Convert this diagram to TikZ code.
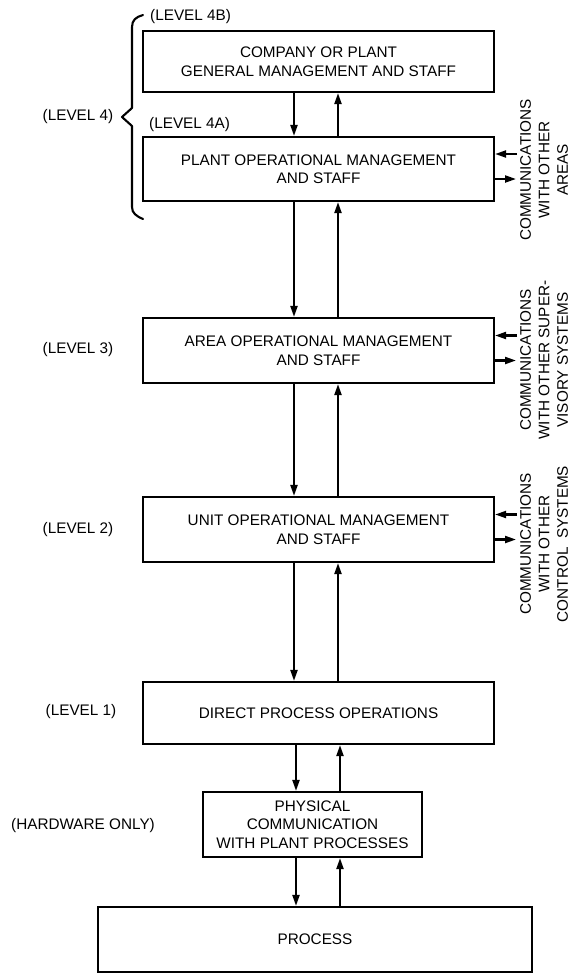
\documentclass[tikz,border=0pt]{standalone}
\usepackage{fontspec}
\setmainfont{Liberation Sans}
\usetikzlibrary{arrows.meta}
\begin{document}
\begin{tikzpicture}[x=1pt,y=-1pt,
  every node/.style={font=\fontsize{15.3}{18.5}\selectfont},
  box/.style={draw,line width=2.2pt,minimum width=351pt,align=center,inner sep=0pt},
  lbl/.style={inner sep=0pt},
  side/.style={rotate=90,align=center,inner sep=0pt},
  arr/.style={line width=2.1pt,-{Triangle[length=11pt,width=7pt]}},
  bracepath/.style={line width=2.1pt,line join=round,line cap=round}]
\useasboundingbox (0,0) rectangle (574,975);
% boxes
\node[box,minimum height=61pt,text depth=-3pt] (b4b) at (318.5,61.5) {COMPANY OR PLANT\\GENERAL MANAGEMENT AND STAFF};
\node[box,minimum height=64pt] (b4a) at (318.5,169) {PLANT OPERATIONAL MANAGEMENT\\AND STAFF};
\node[box,minimum height=65pt] (b3) at (318.5,350.5) {AREA OPERATIONAL MANAGEMENT\\AND STAFF};
\node[box,minimum height=65pt] (b2) at (318.5,529.5) {UNIT OPERATIONAL MANAGEMENT\\AND STAFF};
\node[box,minimum height=62pt] (b1) at (318.5,713) {DIRECT PROCESS OPERATIONS};
\node[box,minimum width=219pt,minimum height=65pt] (bp) at (312.5,824.5) {PHYSICAL\\COMMUNICATION\\WITH PLANT PROCESSES};
\node[box,minimum width=434pt,minimum height=65pt] (bproc) at (315,939.5) {PROCESS};
% left labels
\node[lbl,anchor=west] (l4b) at (150,17) {(LEVEL 4B)};
\node[lbl] (l4) at (78,117) {(LEVEL 4)};
\node[lbl,anchor=west] (l4a) at (149,125) {(LEVEL 4A)};
\node[lbl] (l3) at (78,350) {(LEVEL 3)};
\node[lbl] (l2) at (78,530) {(LEVEL 2)};
\node[lbl] (l1) at (81,712) {(LEVEL 1)};
\node[lbl] (lhw) at (83,826) {(HARDWARE ONLY)};
% brace
\draw[bracepath] (143,15) .. controls (136,17) and (132,20) .. (132,27) -- (132,108) -- (122,117) -- (132,126) -- (132,207) .. controls (132,213) and (136,216) .. (143,219);
% vertical arrow columns
\coordinate (dn) at (294,0);
\coordinate (up) at (338,0);
\coordinate (dnp) at (296,0);
\coordinate (upp) at (340,0);
\draw[arr] (b4b.south -| dn) -- (b4a.north -| dn);
\draw[arr] (b4a.north -| up) -- (b4b.south -| up);
\draw[arr] (b4a.south -| dn) -- (b3.north -| dn);
\draw[arr] (b3.north -| up) -- (b4a.south -| up);
\draw[arr] (b3.south -| dn) -- (b2.north -| dn);
\draw[arr] (b2.north -| up) -- (b3.south -| up);
\draw[arr] (b2.south -| dn) -- (b1.north -| dn);
\draw[arr] (b1.north -| up) -- (b2.south -| up);
\draw[arr] (b1.south -| dnp) -- (bp.north -| dnp);
\draw[arr] (bp.north -| upp) -- (b1.south -| upp);
\draw[arr] (bp.south -| dnp) -- (bproc.north -| dnp);
\draw[arr] (bproc.north -| upp) -- (bp.south -| upp);
% side communications
\foreach \b/\c in {b4a/169,b3/350.5,b2/529.5}{
  \coordinate (\b-in) at (517,\c-15);
  \coordinate (\b-out) at (516,\c+10);
  \draw[arr] (\b-in) -- (\b-in -| \b.east);
  \draw[arr] (\b-out -| \b.east) -- (\b-out);
}
\node[side] (s4) at (544,170) {COMMUNICATIONS\\WITH OTHER\\AREAS};
\node[side] (s3) at (544,360) {COMMUNICATIONS\\WITH OTHER SUPER-\\VISORY SYSTEMS};
\node[side] (s2) at (544,544) {COMMUNICATIONS\\WITH OTHER\\CONTROL\ \ SYSTEMS};
\end{tikzpicture}
\end{document}
